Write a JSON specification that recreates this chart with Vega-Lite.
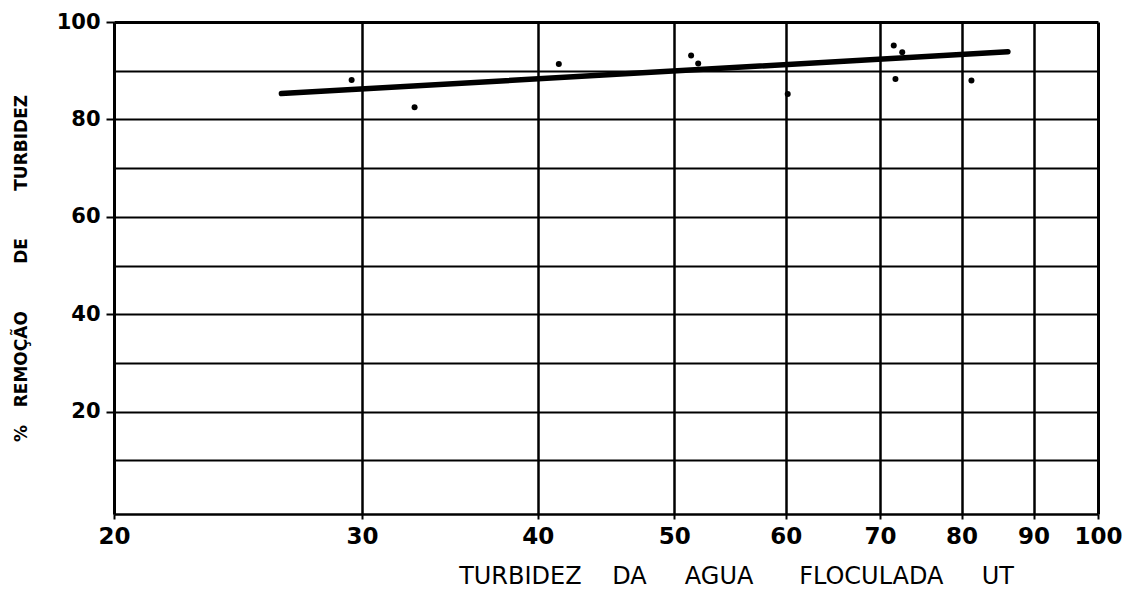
{
  "$schema": "https://vega.github.io/schema/vega-lite/v6.json",
  "width": 984,
  "height": 492,
  "autosize": "none",
  "padding": {"left": 114, "top": 22, "right": 33, "bottom": 77},
  "background": "white",
  "config": {"view": {"stroke": null}, "font": "DejaVu Sans"},
  "encoding": {
    "x": {
      "field": "turbidez",
      "type": "quantitative",
      "scale": {"type": "log", "domain": [20, 100], "nice": false},
      "axis": {
        "values": [20, 30, 40, 50, 60, 70, 80, 90, 100],
        "format": "d",
        "title": "TURBIDEZ\u00a0\u00a0\u00a0\u00a0DA\u00a0\u00a0\u00a0\u00a0\u00a0AGUA\u00a0\u00a0\u00a0\u00a0\u00a0\u00a0FLOCULADA\u00a0\u00a0\u00a0\u00a0\u00a0UT",
        "grid": true,
        "gridColor": "black",
        "gridOpacity": 1,
        "gridWidth": {"condition": {"test": "datum.value == 100", "value": 3}, "value": 2.5},
        "domainColor": "black",
        "domainWidth": 2.5,
        "tickColor": "black",
        "tickWidth": 2,
        "tickSize": 5,
        "labelPadding": 6,
        "labelFont": "DejaVu Sans",
        "labelFontSize": 23,
        "labelFontWeight": "bold",
        "labelColor": "black",
        "labelFlush": false,
        "labelOverlap": false,
        "titleFont": "DejaVu Sans",
        "titleFontSize": 24,
        "titleFontWeight": "normal",
        "titleColor": "black",
        "titleX": 622,
        "titleY": 50,
        "titleBaseline": "top",
        "titleAlign": "center"
      }
    },
    "y": {
      "field": "remocao",
      "type": "quantitative",
      "scale": {"domain": [-1, 100], "nice": false, "zero": false},
      "axis": {
        "values": [10, 20, 30, 40, 50, 60, 70, 80, 90, 100],
        "labelExpr": "datum.value % 20 == 0 ? datum.label : ''",
        "title": "%\u00a0\u00a0\u00a0REMOÇÃO\u00a0\u00a0\u00a0\u00a0\u00a0\u00a0\u00a0\u00a0DE\u00a0\u00a0\u00a0\u00a0\u00a0\u00a0\u00a0\u00a0TURBIDEZ",
        "grid": true,
        "gridColor": "black",
        "gridOpacity": 1,
        "gridWidth": {"condition": {"test": "datum.value == 100", "value": 3}, "value": 2},
        "domainColor": "black",
        "domainWidth": 3,
        "tickColor": "black",
        "tickWidth": 2,
        "tickSize": 8,
        "tickOpacity": {"condition": {"test": "datum.value % 20 == 0", "value": 1}, "value": 0},
        "labelPadding": 6,
        "labelFont": "DejaVu Sans",
        "labelFontSize": 21,
        "labelFontWeight": "bold",
        "labelColor": "black",
        "labelFlush": false,
        "labelOverlap": false,
        "titleFont": "DejaVu Sans",
        "titleFontSize": 17,
        "titleFontWeight": "bold",
        "titleColor": "black",
        "titlePadding": 26
      }
    }
  },
  "layer": [
    {
      "data": {"values": [
        {"turbidez": 26.3, "remocao": 85.3},
        {"turbidez": 86.3, "remocao": 93.9}
      ]},
      "mark": {"type": "line", "color": "black", "strokeWidth": 5.5, "strokeCap": "round"}
    },
    {
      "data": {"values": [
        {"turbidez": 29.5, "remocao": 88.1},
        {"turbidez": 32.7, "remocao": 82.5},
        {"turbidez": 41.4, "remocao": 91.4},
        {"turbidez": 51.4, "remocao": 93.1},
        {"turbidez": 52.0, "remocao": 91.5},
        {"turbidez": 60.2, "remocao": 85.2},
        {"turbidez": 71.6, "remocao": 95.2},
        {"turbidez": 72.6, "remocao": 93.8},
        {"turbidez": 71.8, "remocao": 88.3},
        {"turbidez": 81.3, "remocao": 88.0}
      ]},
      "mark": {"type": "circle", "color": "black", "size": 36, "opacity": 1}
    }
  ]
}
